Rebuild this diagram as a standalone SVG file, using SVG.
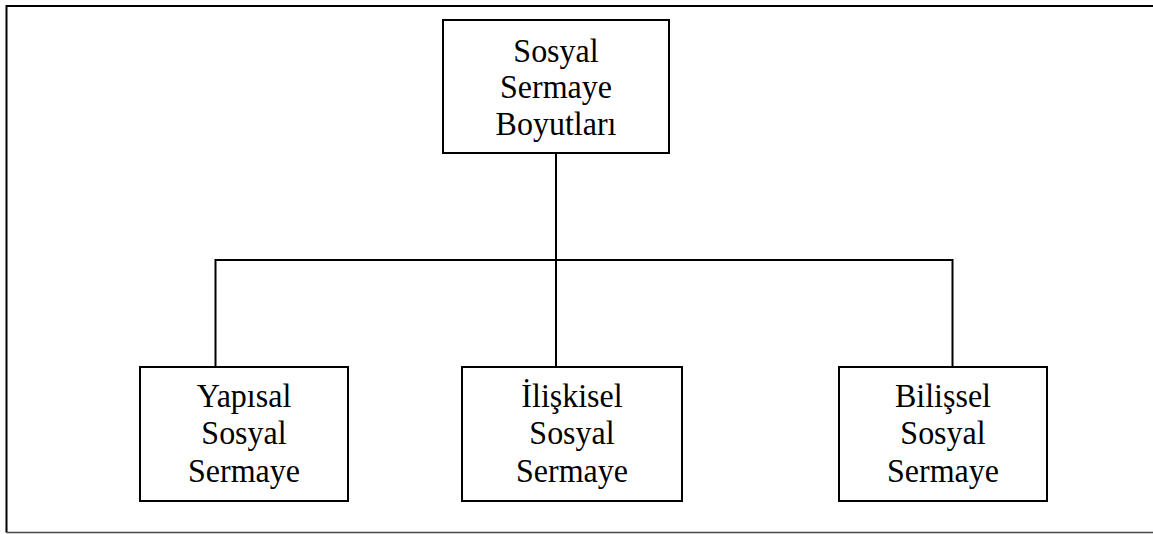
<svg xmlns="http://www.w3.org/2000/svg" width="1153" height="534" viewBox="0 0 1153 534">
  <style>
    .box { fill: #ffffff; stroke: #000000; stroke-width: 2; }
    .wire { fill: none; stroke: #000000; stroke-width: 2; }
    .label { font-size: 32px; fill: #000000; text-anchor: middle; }
  </style>

  <rect x="0" y="0" width="1153" height="534" fill="#ffffff"/>

  <!-- outer frame (open on the right side) -->
  <g id="frame">
    <path d="M1153,6 H6.5 V532.5" fill="none" stroke="#000000" stroke-width="2"/>
    <path d="M6.5,532.5 H1153" fill="none" stroke="#4a4a4a" stroke-width="1.6"/>
  </g>

  <!-- tree connectors -->
  <g id="connectors">
    <path class="wire" d="M556,153 V367"/>
    <path class="wire" d="M215.5,367 V260 H952.5 V367"/>
  </g>

  <!-- labels use a slightly tall serif face: each line is stretched 8% vertically about its baseline -->
  <g font-family="Liberation Serif, Times New Roman, DejaVu Serif, serif">
    <g id="node-root">
      <rect class="box" x="443" y="20" width="226" height="133"/>
      <text class="label" transform="translate(556 61.5) scale(1 1.08)">Sosyal</text>
      <text class="label" transform="translate(556 98) scale(1 1.08)">Sermaye</text>
      <text class="label" transform="translate(556 135) scale(1 1.08)">Boyutları</text>
    </g>

    <g id="node-yapisal">
      <rect class="box" x="140" y="367" width="208" height="134"/>
      <text class="label" transform="translate(244 407) scale(1 1.08)">Yapısal</text>
      <text class="label" transform="translate(244 444) scale(1 1.08)">Sosyal</text>
      <text class="label" transform="translate(244 481.5) scale(1 1.08)">Sermaye</text>
    </g>

    <g id="node-iliskisel">
      <rect class="box" x="462" y="367" width="220" height="134"/>
      <text class="label" transform="translate(572 407) scale(1 1.08)">İlişkisel</text>
      <text class="label" transform="translate(572 444) scale(1 1.08)">Sosyal</text>
      <text class="label" transform="translate(572 481.5) scale(1 1.08)">Sermaye</text>
    </g>

    <g id="node-bilissel">
      <rect class="box" x="839" y="367" width="208" height="134"/>
      <text class="label" transform="translate(943 407) scale(1 1.08)">Bilişsel</text>
      <text class="label" transform="translate(943 444) scale(1 1.08)">Sosyal</text>
      <text class="label" transform="translate(943 481.5) scale(1 1.08)">Sermaye</text>
    </g>
  </g>
</svg>
